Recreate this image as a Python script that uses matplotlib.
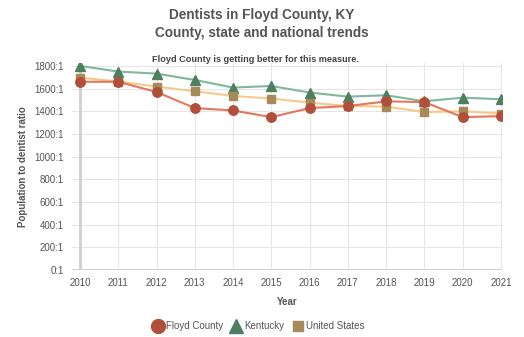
import matplotlib.pyplot as plt
from matplotlib.lines import Line2D

# data
years = [2010, 2011, 2012, 2013, 2014, 2015, 2016, 2017, 2018, 2019, 2020, 2021]
floyd = [1660, 1660, 1570, 1428, 1407, 1348, 1428, 1446, 1487, 1481, 1348, 1357]
kentucky = [1800, 1750, 1732, 1676, 1609, 1623, 1565, 1529, 1541, 1488, 1520, 1506]
united_states = [1697, 1662, 1618, 1576, 1535, 1512, 1476, 1447, 1441, 1393, 1400, 1380]
yticks = [0, 200, 400, 600, 800, 1000, 1200, 1400, 1600, 1800]

plt.rcParams['font.family'] = ['Liberation Sans', 'DejaVu Sans']
txt = '#555555'

fig = plt.figure(figsize=(5.24, 3.37), dpi=100)
ax = fig.add_axes([72 / 524, 1 - 270 / 337, 430 / 524, 207.5 / 337])

ax.plot(years, kentucky, color='#7fb89a', lw=1.5, marker='^', ms=7,
        mfc='#4e7f5f', mec='#4e7f5f', zorder=3)
ax.plot(years, united_states, color='#f6c98c', lw=1.5, marker='s', ms=5.2,
        mfc='#a8895a', mec='#a8895a', zorder=4)
ax.plot(years, floyd, color='#e5775a', lw=1.5, marker='o', ms=6.8,
        mfc='#b0503a', mec='#b0503a', zorder=5)

ax.set_xlim(2010 - 8 / 38.3, 2021.03)
ax.set_ylim(0, 1830)
ax.set_xticks(years)
ax.set_yticks(yticks)
ax.set_yticklabels([f'{v}:1' for v in yticks])
ax.tick_params(length=0, labelsize=7, colors=txt, pad=6)
ax.grid(color='#e6e6e6', lw=0.8)
ax.set_axisbelow(True)
for s in ax.spines.values():
    s.set_visible(False)
ax.axhline(0, color='#cccccc', lw=2, zorder=2)
ax.axvline(2010, color='#d0d0d0', lw=2, zorder=2)

ax.set_xlabel('Year', fontsize=7, fontweight='bold', color=txt, labelpad=6)
ax.set_ylabel('Population to dentist ratio', fontsize=7, fontweight='bold',
              color=txt, labelpad=4)

fig.text(0.5, 1 - 15 / 337, 'Dentists in Floyd County, KY', ha='center',
         va='center', fontsize=9.8, fontweight='bold', color=txt)
fig.text(0.5, 1 - 33 / 337, 'County, state and national trends', ha='center',
         va='center', fontsize=9.8, fontweight='bold', color=txt)
fig.text(256 / 524, 1 - 60 / 337, 'Floyd County is getting better for this measure.',
         ha='center', va='center', fontsize=6.6, fontweight='bold', color='#444444')

handles = [
    Line2D([], [], ls='none', marker='o', ms=10, mfc='#b0503a', mec='#b0503a'),
    Line2D([], [], ls='none', marker='^', ms=10, mfc='#4e7f5f', mec='#4e7f5f'),
    Line2D([], [], ls='none', marker='s', ms=7.5, mfc='#a8895a', mec='#a8895a'),
]
fig.legend(handles, ['Floyd County', 'Kentucky', 'United States'], loc='center',
           bbox_to_anchor=(258 / 524, 1 - 326 / 337), ncol=3, frameon=False,
           fontsize=7, labelcolor=txt, handletextpad=0.2, columnspacing=0.8,
           handlelength=1.2)

fig.savefig('out.png', dpi=100)
